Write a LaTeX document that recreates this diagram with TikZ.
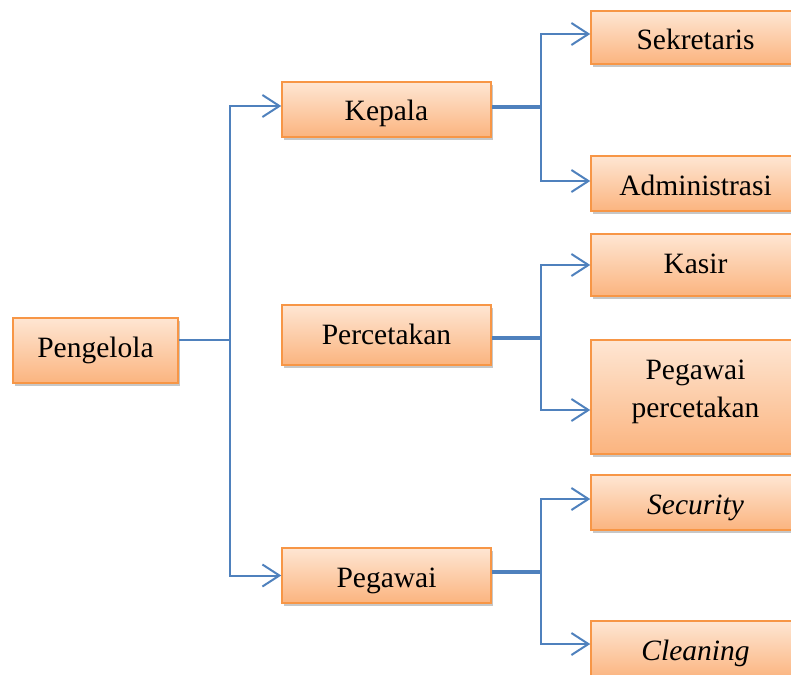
\documentclass[tikz,border=0pt]{standalone}
\usepackage{fontspec}
\setmainfont{Liberation Serif}
\usetikzlibrary{shadows,arrows.meta}
\definecolor{boxedge}{HTML}{F79646}
\definecolor{boxtop}{HTML}{FEE6D3}
\definecolor{boxbot}{HTML}{FBB47F}
\definecolor{linkblue}{HTML}{4F81BD}
\tikzset{
  orgbox/.style={draw=boxedge, line width=1.5pt, top color=boxtop, bottom color=boxbot,
    minimum width=209pt, align=center, inner sep=0pt, text depth=0pt,
    font=\fontsize{29.5}{38}\selectfont,
    drop shadow={shadow xshift=2pt, shadow yshift=-3pt, fill=black, opacity=0.22}},
  link/.style={draw=linkblue, line width=2pt},
  trunk/.style={draw=linkblue, line width=3.5pt},
  arrowlink/.style={link, -{Straight Barb[length=17pt, width=22pt, line width=2pt]}}
}
\begin{document}
\begin{tikzpicture}[x=1pt, y=-1pt]
\useasboundingbox (0,0) rectangle (791,674);
\clip (0,0) rectangle (791,674);

% first level
\node[orgbox, minimum width=165pt, minimum height=65pt, text height=13pt] (peng) at (95.5,350.5) {Pengelola};

% second level
\node[orgbox, minimum height=55pt, text height=23pt] (kep) at (386.5,109.5) {Kepala};
\node[orgbox, minimum height=60pt, text height=18pt] (perc) at (386.5,335) {Percetakan};
\node[orgbox, minimum height=55pt, text height=23pt] (peg) at (386.5,575.5) {Pegawai};

% third level
\node[orgbox, minimum height=53pt, text height=25pt] (sek) at (695.5,37.5) {Sekretaris};
\node[orgbox, minimum height=55pt, text height=23pt] (adm) at (695.5,183.5) {Administrasi};
\node[orgbox, minimum height=62pt, text height=16pt] (kas) at (695.5,265) {Kasir};
\node[orgbox, minimum height=114pt, text height=40pt] (pp) at (695.5,397) {Pegawai\\percetakan};
\node[orgbox, minimum height=55pt, text height=23pt] (sec) at (695.5,502.5) {\itshape Security};
\node[orgbox, minimum height=58pt, text height=20pt] (cln) at (695.5,650) {\itshape Cleaning};

% junction points
\coordinate (jp) at (230,340);
\coordinate (jk) at (541,107);
\coordinate (jc) at (541,338);
\coordinate (jg) at (541,572);

% Pengelola branches
\draw[link] (peng.east |- jp) -- (jp);
\draw[arrowlink] (jp) |- ([yshift=3.5pt]kep.west);
\draw[arrowlink] (jp) |- (peg.west);

% Kepala branches
\draw[trunk] (kep.east |- jk) -- (jk);
\draw[arrowlink] (jk) |- ([yshift=3.5pt]sek.west);
\draw[arrowlink] (jk) |- ([yshift=2.5pt]adm.west);

% Percetakan branches
\draw[trunk] (perc.east |- jc) -- (jc);
\draw[arrowlink] (jc) |- (kas.west);
\draw[arrowlink] (jc) |- ([yshift=-13pt]pp.west);

% Pegawai branches
\draw[trunk] (peg.east |- jg) -- (jg);
\draw[arrowlink] (jg) |- ([yshift=3.5pt]sec.west);
\draw[arrowlink] (jg) |- ([yshift=6pt]cln.west);
\end{tikzpicture}
\end{document}
